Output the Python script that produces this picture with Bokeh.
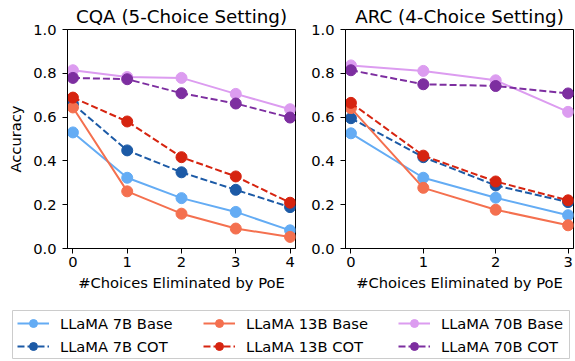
from bokeh.plotting import figure
from bokeh.layouts import column, row
from bokeh.models import FixedTicker, Legend, LegendItem, Range1d, PrintfTickFormatter
from bokeh.embed import file_html
from bokeh.resources import INLINE

FONT = "DejaVu Sans"

# ---- data ----
cqa_x = [0, 1, 2, 3, 4]
cqa_7b_base = [0.530, 0.323, 0.230, 0.167, 0.083]
cqa_7b_cot = [0.660, 0.448, 0.348, 0.268, 0.189]
cqa_13b_base = [0.644, 0.261, 0.159, 0.091, 0.053]
cqa_13b_cot = [0.689, 0.580, 0.417, 0.329, 0.209]
cqa_70b_base = [0.814, 0.783, 0.779, 0.706, 0.636]
cqa_70b_cot = [0.779, 0.773, 0.709, 0.662, 0.598]

arc_x = [0, 1, 2, 3]
arc_7b_base = [0.526, 0.323, 0.232, 0.152]
arc_7b_cot = [0.595, 0.417, 0.288, 0.212]
arc_13b_base = [0.641, 0.277, 0.177, 0.106]
arc_13b_cot = [0.665, 0.424, 0.306, 0.220]
arc_70b_base = [0.836, 0.811, 0.768, 0.624]
arc_70b_cot = [0.814, 0.750, 0.742, 0.708]

series_names = ["LLaMA 7B Base", "LLaMA 7B COT", "LLaMA 13B Base",
                "LLaMA 13B COT", "LLaMA 70B Base", "LLaMA 70B COT"]
series_colors = ["#64acf4", "#1c5aa6", "#f4704f", "#d62410", "#dc9cf0", "#7d2ea0"]
series_dash = ["solid", "7 3", "solid", "7 3", "solid", "7 3"]

y_ticks = [0.0, 0.2, 0.4, 0.6, 0.8, 1.0]
title_cqa = "CQA (5-Choice Setting)"
title_arc = "ARC (4-Choice Setting)"
x_label = "#Choices Eliminated by PoE"
y_label = "Accuracy"


def style(p, xticks):
    p.grid.visible = False
    p.outline_line_color = "black"
    p.outline_line_width = 1
    p.background_fill_color = "white"
    p.border_fill_color = "white"
    p.title.text_font = FONT
    p.title.text_font_size = "18.3px"
    p.title.text_font_style = "normal"
    p.title.align = "center"
    p.title.text_color = "black"
    p.title.standoff = 6
    for ax in (p.xaxis[0], p.yaxis[0]):
        ax.axis_line_color = "black"
        ax.major_tick_line_color = "black"
        ax.major_tick_out = 5
        ax.major_tick_in = 0
        ax.minor_tick_line_color = None
        ax.major_label_text_font = FONT
        ax.major_label_text_font_size = "14.7px"
        ax.major_label_text_color = "black"
        ax.axis_label_text_font = FONT
        ax.axis_label_text_font_size = "14.7px"
        ax.axis_label_text_font_style = "normal"
        ax.axis_label_text_color = "black"
    p.xaxis.major_label_standoff = 3
    p.yaxis.major_label_standoff = 6
    p.xaxis.ticker = FixedTicker(ticks=xticks)
    p.yaxis.ticker = FixedTicker(ticks=y_ticks)
    p.yaxis.formatter = PrintfTickFormatter(format="%.1f")
    p.xaxis.axis_label = x_label
    p.xaxis.axis_label_standoff = 4


def draw(p, x, ys):
    for yv, c, d in zip(ys, series_colors, series_dash):
        p.line(x, yv, line_color=c, line_width=2, line_dash=d)
        p.scatter(x, yv, size=11, fill_color=c, line_color=c)


p1 = figure(width=300, height=308, output_backend="svg", toolbar_location=None,
            x_range=Range1d(-0.1, 4.1), y_range=Range1d(0, 1),
            min_border_left=67, min_border_right=5, min_border_top=28,
            min_border_bottom=60, title=title_cqa)
style(p1, cqa_x)
p1.yaxis.axis_label = y_label
p1.yaxis.axis_label_standoff = 6
draw(p1, cqa_x, [cqa_7b_base, cqa_7b_cot, cqa_13b_base, cqa_13b_cot, cqa_70b_base, cqa_70b_cot])

p2 = figure(width=275, height=308, output_backend="svg", toolbar_location=None,
            x_range=Range1d(-0.075, 3.075), y_range=Range1d(0, 1),
            min_border_left=45, min_border_right=2, min_border_top=28,
            min_border_bottom=60, title=title_arc)
style(p2, arc_x)
draw(p2, arc_x, [arc_7b_base, arc_7b_cot, arc_13b_base, arc_13b_cot, arc_70b_base, arc_70b_cot])

# legend figure: its frame outline serves as the legend box
pl = figure(width=575, height=53, output_backend="svg", toolbar_location=None,
            x_range=Range1d(0, 1), y_range=Range1d(0, 1),
            min_border_left=12, min_border_right=6,
            min_border_top=2, min_border_bottom=3)
pl.axis.visible = False
pl.grid.visible = False
pl.outline_line_color = "#cccccc"
pl.outline_line_width = 1
items = {}
for name, c, d in zip(series_names, series_colors, series_dash):
    lr = pl.line([-5, -4], [-5, -5], line_color=c, line_width=2, line_dash=d)
    sr = pl.scatter([-5], [-5], size=11, fill_color=c, line_color=c)
    items[name] = LegendItem(label=name, renderers=[lr, sr])

columns = [["LLaMA 7B Base", "LLaMA 7B COT"],
           ["LLaMA 13B Base", "LLaMA 13B COT"],
           ["LLaMA 70B Base", "LLaMA 70B COT"]]
col_x = [5, 191, 386]
for names, cx in zip(columns, col_x):
    leg = Legend(items=[items[n] for n in names], orientation="vertical",
                 location=(cx, 2), label_text_font=FONT, label_text_font_size="14.7px",
                 label_text_color="black", glyph_width=32, glyph_height=20,
                 label_height=20, label_standoff=11, spacing=3, padding=0, margin=0,
                 border_line_color=None, background_fill_alpha=0)
    pl.add_layout(leg, "center")

layout = column(row(p1, p2), pl)
open("out.html", "w").write(file_html(layout, INLINE))
